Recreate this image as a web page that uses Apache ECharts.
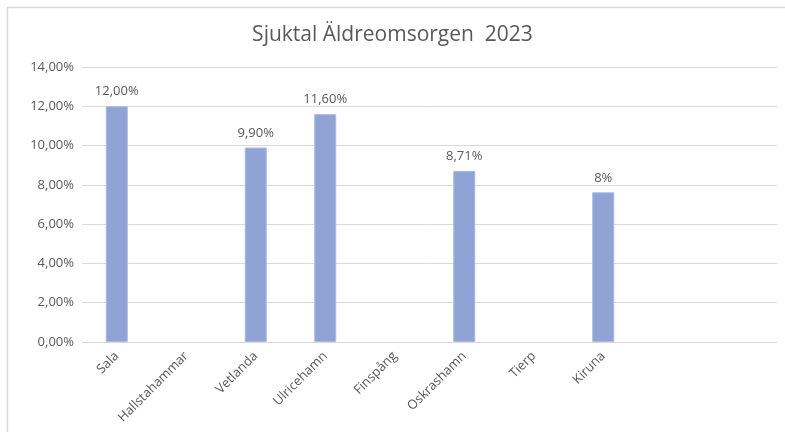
<!DOCTYPE html>
<html>
<head>
<meta charset="utf-8">
<script src="https://cdn.jsdelivr.net/npm/echarts@6/dist/echarts.min.js"></script>
<style>
    html, body { margin: 0; padding: 0; background: #fff; }
    #chart { width: 785px; height: 432px; }
</style>
</head>
<body>
<div id="chart"></div>
<script>
// kommuner (två tomma platser till höger som i originalet)
const categories = ['Sala', 'Hallstahammar', 'Vetlanda', 'Ulricehamn', 'Finspång', 'Oskrashamn', 'Tierp', 'Kiruna', '', ''];
const sjuktal = [12.0, null, 9.9, 11.6, null, 8.71, null, 7.62, null, null];
const valueLabels = ['12,00%', '', '9,90%', '11,60%', '', '8,71%', '', '8%', '', ''];
const yTicks = [0, 2, 4, 6, 8, 10, 12, 14];

const textColor = '#595959';
const font = 'Open Sans';

const myChart = echarts.init(document.getElementById('chart'));
myChart.setOption({
    animation: false,
    title: {
        text: 'Sjuktal Äldreomsorgen  2023',
        left: 'center',
        top: 20,
        textStyle: {
            fontFamily: font,
            fontSize: 21,
            fontWeight: 'normal',
            color: textColor,
        },
    },
    graphic: [
        {
            type: 'rect',
            shape: { x: 7.5, y: 7.5, width: 800, height: 450 },
            style: { fill: 'none', stroke: '#D9D9D9', lineWidth: 1.5 },
            silent: true,
        },
    ],
    grid: {
        left: 82,
        right: 8,
        top: 67,
        bottom: 90,
    },
    xAxis: {
        type: 'category',
        data: categories,
        axisLine: {
            lineStyle: { color: '#D9D9D9' },
        },
        axisTick: { show: false },
        axisLabel: {
            interval: 0,
            rotate: 45,
            margin: 12,
            fontFamily: font,
            fontSize: 13,
            color: textColor,
        },
    },
    yAxis: {
        type: 'value',
        min: yTicks[0],
        max: yTicks[yTicks.length - 1],
        interval: 2,
        axisLine: { show: false },
        axisTick: { show: false },
        splitLine: {
            lineStyle: { color: '#D9D9D9' },
        },
        axisLabel: {
            margin: 8,
            fontFamily: font,
            fontSize: 13,
            color: textColor,
            formatter: v => v.toFixed(2).replace('.', ',') + '%',
        },
    },
    series: [
        {
            type: 'bar',
            data: sjuktal,
            barWidth: 22,
            itemStyle: {
                color: '#8FA3D4',
                borderColor: '#A9BAE4',
                borderWidth: 1,
            },
            label: {
                show: true,
                position: 'top',
                distance: 8,
                fontFamily: font,
                fontSize: 13,
                color: textColor,
                formatter: p => valueLabels[p.dataIndex],
            },
        },
    ],
});
</script>
</body>
</html>
